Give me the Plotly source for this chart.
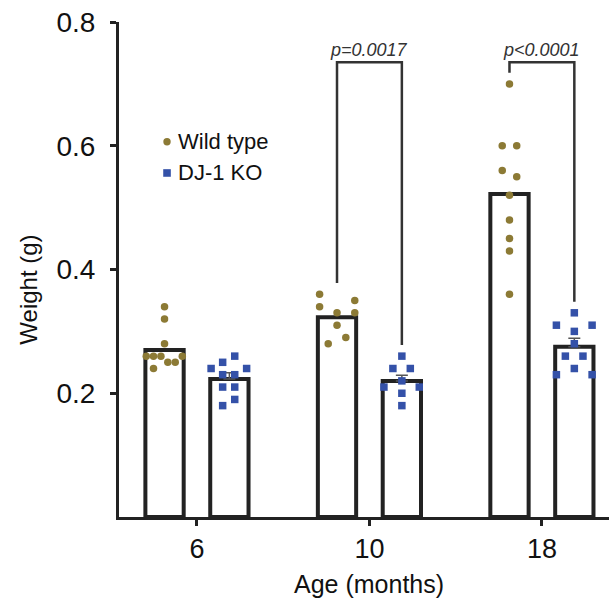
import plotly.graph_objects as go

# ---------------- data ----------------
ages = ["6", "10", "18"]
wt_mean = [0.270, 0.323, 0.522]
ko_mean = [0.223, 0.220, 0.275]
ko_sem = [0.010, 0.009, 0.014]

wt_6 = [0.34, 0.32, 0.28, 0.26, 0.26, 0.26, 0.26, 0.25, 0.25, 0.24]
wt_10 = [0.36, 0.34, 0.35, 0.33, 0.33, 0.31, 0.29, 0.28]
wt_18 = [0.70, 0.60, 0.60, 0.56, 0.55, 0.52, 0.48, 0.45, 0.43, 0.36]
ko_6 = [0.26, 0.25, 0.24, 0.24, 0.23, 0.23, 0.21, 0.21, 0.19, 0.18]
ko_10 = [0.26, 0.24, 0.24, 0.22, 0.21, 0.21, 0.20, 0.18]
ko_18 = [0.33, 0.31, 0.31, 0.30, 0.28, 0.26, 0.26, 0.24, 0.23, 0.23]

# horizontal jitter of each dot (category units)
wt_6_j = [0, 0, 0, -0.106, -0.064, -0.021, 0.103, 0.019, 0.062, -0.064]
wt_10_j = [-0.101, -0.101, 0.103, 0, 0.103, 0, 0.051, -0.051]
wt_18_j = [0, -0.042, 0.042, -0.042, 0.042, 0, 0, 0, 0, 0]
ko_6_j = [0.031, -0.039, -0.106, 0.100, -0.039, 0.031, -0.039, 0.031, 0.031, -0.039]
ko_10_j = [0, -0.052, 0.049, 0, -0.104, 0.101, 0, 0]
ko_18_j = [0, -0.104, 0.103, 0, 0, -0.052, 0.050, 0, -0.104, 0.103]

p_labels = ["p=0.0017", "p<0.0001"]
p_groups = [1, 2]

# ---------------- style ----------------
OLIVE = "#8C7A35"
BLUE = "#3451A8"
INK = "#222222"
FONT = "Liberation Sans, Arial, sans-serif"
OFF = 0.188
BW = 0.222

groups = list(range(len(ages)))
wt_x = [g - OFF for g in groups]
ko_x = [g + OFF for g in groups]

fig = go.Figure()
fig.add_trace(go.Bar(x=wt_x, y=wt_mean, width=BW, marker=dict(color="white", line=dict(color=INK, width=4)),
                     showlegend=False, hoverinfo="skip"))
fig.add_trace(go.Bar(x=ko_x, y=ko_mean, width=BW, marker=dict(color="white", line=dict(color=INK, width=4)),
                     error_y=dict(type="data", array=ko_sem, arrayminus=[0] * 3, symmetric=False,
                                  color="#555555", thickness=1.5, width=6),
                     showlegend=False, hoverinfo="skip"))

wt_sets = [(wt_6, wt_6_j), (wt_10, wt_10_j), (wt_18, wt_18_j)]
ko_sets = [(ko_6, ko_6_j), (ko_10, ko_10_j), (ko_18, ko_18_j)]
wx, wy, kx, ky = [], [], [], []
for g, (vals, jit) in zip(groups, wt_sets):
    wx += [g - OFF + j for j in jit]
    wy += vals
for g, (vals, jit) in zip(groups, ko_sets):
    kx += [g + OFF + j for j in jit]
    ky += vals
fig.add_trace(go.Scatter(x=wx, y=wy, mode="markers", cliponaxis=False, hoverinfo="skip",
                         marker=dict(symbol="circle", size=7.5, color=OLIVE, line=dict(width=0)),
                         showlegend=False))
fig.add_trace(go.Scatter(x=kx, y=ky, mode="markers", cliponaxis=False, hoverinfo="skip",
                         marker=dict(symbol="square", size=7.5, color=BLUE, line=dict(width=0)),
                         showlegend=False))

# significance brackets
top = 0.735
gap = 0.018
for g, lab in zip(p_groups, p_labels):
    lx, rx = g - OFF, g + OFF
    lb = max(wt_sets[g][0]) + gap
    rb = max(ko_sets[g][0]) + gap
    fig.add_shape(type="path", path=f"M {lx},{lb} L {lx},{top} L {rx},{top} L {rx},{rb}",
                  line=dict(color="#333333", width=2.5), xref="x", yref="y")
    fig.add_annotation(x=g, y=top, text=f"<i>{lab}</i>", showarrow=False, yanchor="bottom", yshift=0,
                       font=dict(family=FONT, size=18, color="#333333"))

# legend (manual)
fig.add_shape(type="circle", xref="paper", yref="paper", xsizemode="pixel", ysizemode="pixel",
              xanchor=0.098, yanchor=0.758, x0=-3.7, x1=3.7, y0=-3.7, y1=3.7,
              fillcolor=OLIVE, line=dict(width=0))
fig.add_shape(type="rect", xref="paper", yref="paper", xsizemode="pixel", ysizemode="pixel",
              xanchor=0.098, yanchor=0.695, x0=-3.8, x1=3.8, y0=-3.8, y1=3.8,
              fillcolor=BLUE, line=dict(width=0))
fig.add_annotation(x=0.116, y=0.758, xref="paper", yref="paper", text="Wild type", showarrow=False,
                   xanchor="left", yanchor="middle", font=dict(family=FONT, size=22, color="#111111"))
fig.add_annotation(x=0.116, y=0.695, xref="paper", yref="paper", text="DJ-1 KO", showarrow=False,
                   xanchor="left", yanchor="middle", font=dict(family=FONT, size=22, color="#111111"))

# axis titles
fig.add_annotation(x=1, y=-0.135, xref="x", yref="paper", text="Age (months)", showarrow=False,
                   xanchor="center", yanchor="middle", font=dict(family=FONT, size=25, color="#111111"))
fig.add_annotation(x=-0.185, y=0.46, xref="paper", yref="paper", text="Weight (g)", showarrow=False,
                   textangle=-90, xanchor="center", yanchor="middle",
                   font=dict(family=FONT, size=24, color="#111111"))

fig.update_layout(
    width=609, height=599,
    margin=dict(l=119, r=0, t=22, b=82),
    paper_bgcolor="white", plot_bgcolor="white",
    barmode="overlay",
    hovermode=False,
    font=dict(family=FONT, color="#111111"),
    xaxis=dict(range=[-0.452, 2.389], tickvals=groups, ticktext=ages, showgrid=False, zeroline=False,
               automargin=False, fixedrange=True,
               showline=True, linecolor=INK, linewidth=3, ticks="outside", ticklen=6, tickwidth=3,
               tickcolor=INK, tickfont=dict(size=27, family=FONT, color="#111111"), ticklabelstandoff=0),
    yaxis=dict(range=[0, 0.8], tickvals=[0.2, 0.4, 0.6, 0.8], ticktext=["0.2", "0.4", "0.6", "0.8"],
               automargin=False, fixedrange=True,
               showgrid=False, zeroline=False, showline=True, linecolor=INK, linewidth=3,
               ticks="outside", ticklen=6, tickwidth=3, tickcolor=INK,
               tickfont=dict(size=28, family=FONT, color="#111111"), ticklabelstandoff=9),
)

fig.write_html("out.html", config={"displayModeBar": False, "staticPlot": True},
               post_script="document.body.style.margin='0px';document.body.style.overflow='hidden';")
